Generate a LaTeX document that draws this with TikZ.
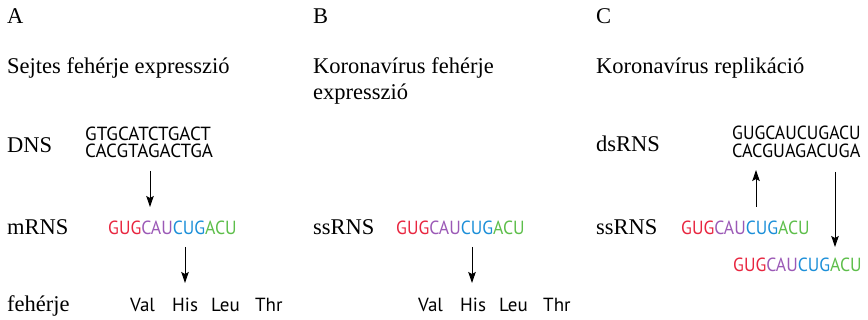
\documentclass[tikz,border=0pt]{standalone}
\usepackage{fontspec}
\setmainfont{Liberation Serif}
\newfontfamily\seqfont{PT Sans}
\usetikzlibrary{arrows.meta}
\definecolor{ntred}{HTML}{E8253F}
\definecolor{ntpurple}{HTML}{9B59B6}
\definecolor{ntblue}{HTML}{1C8FD8}
\definecolor{ntgreen}{HTML}{5DBE4A}
% RNA letters are set slightly narrower than the DNA letters
\newcommand{\narrow}[2]{\scalebox{#1}[1]{#2}}
\newcommand{\rnaseq}{\narrow{0.93}{{\color{ntred}GUG}{\color{ntpurple}CAU}{\color{ntblue}CUG}{\color{ntgreen}ACU}}}
\tikzset{
  lbl/.style={anchor=base west, inner sep=0pt, font=\fontsize{22.5}{25.5}\selectfont},
  seq/.style={anchor=base west, inner sep=0pt, font=\seqfont\fontsize{19}{18}\selectfont},
  arr/.style={-{Stealth[length=11pt,width=7.5pt,inset=2pt]}, line width=1pt},
}
\begin{document}
\begin{tikzpicture}[x=1pt,y=-1pt]
\useasboundingbox (0,0) rectangle (868,320);

% panel A: cellular protein expression
\node[lbl] (hA) at (7,24) {A};
\node[lbl] (tA) at (7,74) {Sejtes fehérje expresszió};
\node[lbl] (lDNS) at (7,152.5) {DNS};
\node[seq] (dnaT) at (85,141) {GTGCATCTGACT};
\node[seq] (dnaB) at (85,158) {CACGTAGACTGA};
\node[lbl] (lmRNS) at (7,235) {mRNS};
\node[seq] (mrna) at (108,235) {\rnaseq};
\node[lbl] (lprotA) at (7,311.5) {fehérje};
\node[seq] (aA1) at (130,311.5) {Val};
\node[seq] (aA2) at (172,311.5) {His};
\node[seq] (aA3) at (211,311.5) {Leu};
\node[seq] (aA4) at (255,311.5) {Thr};
\coordinate (a1s) at (150,171);
\coordinate (a1e) at (150,207);
\draw[arr] (a1s) -- (a1e);
\coordinate (a2s) at (185,247);
\coordinate (a2e) at (185,283);
\draw[arr] (a2s) -- (a2e);

% panel B: coronavirus protein expression
\node[lbl] (hB) at (313,24) {B};
\node[lbl] (tB1) at (313,74) {Koronavírus fehérje};
\node[lbl] (tB2) at (313,99.5) {expresszió};
\node[lbl] (lssB) at (313,235) {ssRNS};
\node[seq] (ssB) at (396,235) {\rnaseq};
\node[seq] (aB1) at (418,311.5) {Val};
\node[seq] (aB2) at (460,311.5) {His};
\node[seq] (aB3) at (499,311.5) {Leu};
\node[seq] (aB4) at (543,311.5) {Thr};
\coordinate (b1s) at (472,247);
\coordinate (b1e) at (472,283);
\draw[arr] (b1s) -- (b1e);

% panel C: coronavirus replication
\node[lbl] (hC) at (596,24) {C};
\node[lbl] (tC) at (596,74) {Koronavírus replikáció};
\node[lbl] (ldsC) at (596,152) {dsRNS};
\node[seq] (dsT) at (732,140) {\narrow{0.93}{GUGCAUCUGACU}};
\node[seq] (dsB) at (732,158) {\narrow{0.955}{CACGUAGACUGA}};
\node[lbl] (lssC) at (596,235) {ssRNS};
\node[seq] (ssC) at (681,235) {\rnaseq};
\node[seq] (ssNew) at (733,271.5) {\rnaseq};
\coordinate (c1s) at (756,207);
\coordinate (c1e) at (756,170);
\draw[arr] (c1s) -- (c1e);
\coordinate (c2s) at (835,172);
\coordinate (c2e) at (835,247);
\draw[arr] (c2s) -- (c2e);
\end{tikzpicture}
\end{document}
